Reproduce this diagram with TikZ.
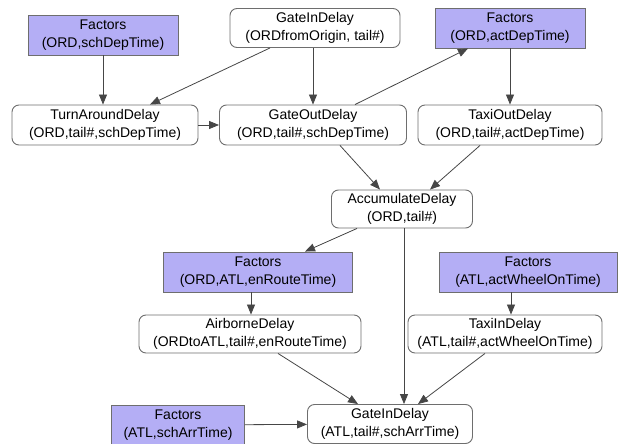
\documentclass[tikz,border=0pt]{standalone}
\usepackage{fontspec}
\setmainfont{Liberation Sans}
\usetikzlibrary{arrows.meta}
\definecolor{factfill}{RGB}{180,174,245}
\definecolor{edgegray}{RGB}{70,70,70}
\definecolor{boxgray}{RGB}{110,110,110}
\begin{document}
\begin{tikzpicture}[x=1pt,y=-1pt,
  base/.style={align=center,inner sep=0pt,font=\fontsize{14}{18}\selectfont},
  factbox/.style={base,draw=boxgray,fill=factfill,line width=0.9pt},
  delaybox/.style={base,draw=boxgray,fill=white,rounded corners=7pt,line width=0.9pt},
  conn/.style={draw=edgegray,line width=0.8pt,-{Triangle[length=10pt,width=8pt]}}
]
\useasboundingbox (0,0) rectangle (626,444);
\node[factbox,minimum width=150pt,minimum height=40pt] (f1) at (103,35) {Factors\\(ORD,schDepTime)};
\node[delaybox,minimum width=170pt,minimum height=39pt] (gin1) at (315,28) {GateInDelay\\(ORDfromOrigin, tail\#)};
\node[factbox,minimum width=150pt,minimum height=40pt] (fa) at (510,28) {Factors\\(ORD,actDepTime)};
\node[delaybox,minimum width=186pt,minimum height=40pt] (ta) at (105,125) {TurnAroundDelay\\(ORD,tail\#,schDepTime)};
\node[delaybox,minimum width=187pt,minimum height=40pt] (go) at (313,125) {GateOutDelay\\(ORD,tail\#,schDepTime)};
\node[delaybox,minimum width=184pt,minimum height=40pt] (to) at (510,125) {TaxiOutDelay\\(ORD,tail\#,actDepTime)};
\node[delaybox,minimum width=141pt,minimum height=38pt] (acc) at (402,209) {AccumulateDelay\\(ORD,tail\#)};
\node[factbox,minimum width=189pt,minimum height=40pt] (fer) at (258,272) {Factors\\(ORD,ATL,enRouteTime)};
\node[factbox,minimum width=178pt,minimum height=40pt] (fw) at (528,272) {Factors\\(ATL,actWheelOnTime)};
\node[delaybox,minimum width=222pt,minimum height=38pt] (air) at (250,334) {AirborneDelay\\(ORDtoATL,tail\#,enRouteTime)};
\node[delaybox,minimum width=194pt,minimum height=38pt] (ti) at (505,334) {TaxiInDelay\\(ATL,tail\#,actWheelOnTime)};
\node[factbox,minimum width=133pt,minimum height=40pt] (fs) at (178,425) {Factors\\(ATL,schArrTime)};
\node[delaybox,minimum width=165pt,minimum height=39pt] (gin2) at (390,424) {GateInDelay\\(ATL,tail\#,schArrTime)};

\draw[conn] (f1) -- (ta.north -| f1);
\draw[conn] ([xshift=-45pt]gin1.south) -- ([xshift=45pt]ta.north);
\draw[conn] ([xshift=-2pt]gin1.south) -- ([xshift=0pt]go.north);
\draw[conn] (ta) -- (go);
\draw[conn] ([xshift=42pt]go.north) -- ([xshift=-42pt]fa.south);
\draw[conn] (fa) -- (to.north -| fa);
\draw[conn] ([xshift=27pt]go.south) -- ([xshift=-22pt]acc.north);
\draw[conn] ([xshift=-30pt]to.south) -- ([xshift=28pt]acc.north);
\draw[conn] ([xshift=-45pt]acc.south) -- ([xshift=47pt]fer.north);
\draw[conn] ([xshift=2pt]acc.south) -- ([xshift=14pt]gin2.north);
\draw[conn] ([xshift=-7pt]fer.south) -- ([xshift=1pt]air.north);
\draw[conn] ([xshift=-17pt]fw.south) -- ([xshift=6pt]ti.north);
\draw[conn] ([xshift=28pt]air.south) -- ([xshift=-32pt]gin2.north);
\draw[conn] ([xshift=-20pt]ti.south) -- ([xshift=28pt]gin2.north);
\draw[conn] (fs) -- (gin2);
\end{tikzpicture}
\end{document}
